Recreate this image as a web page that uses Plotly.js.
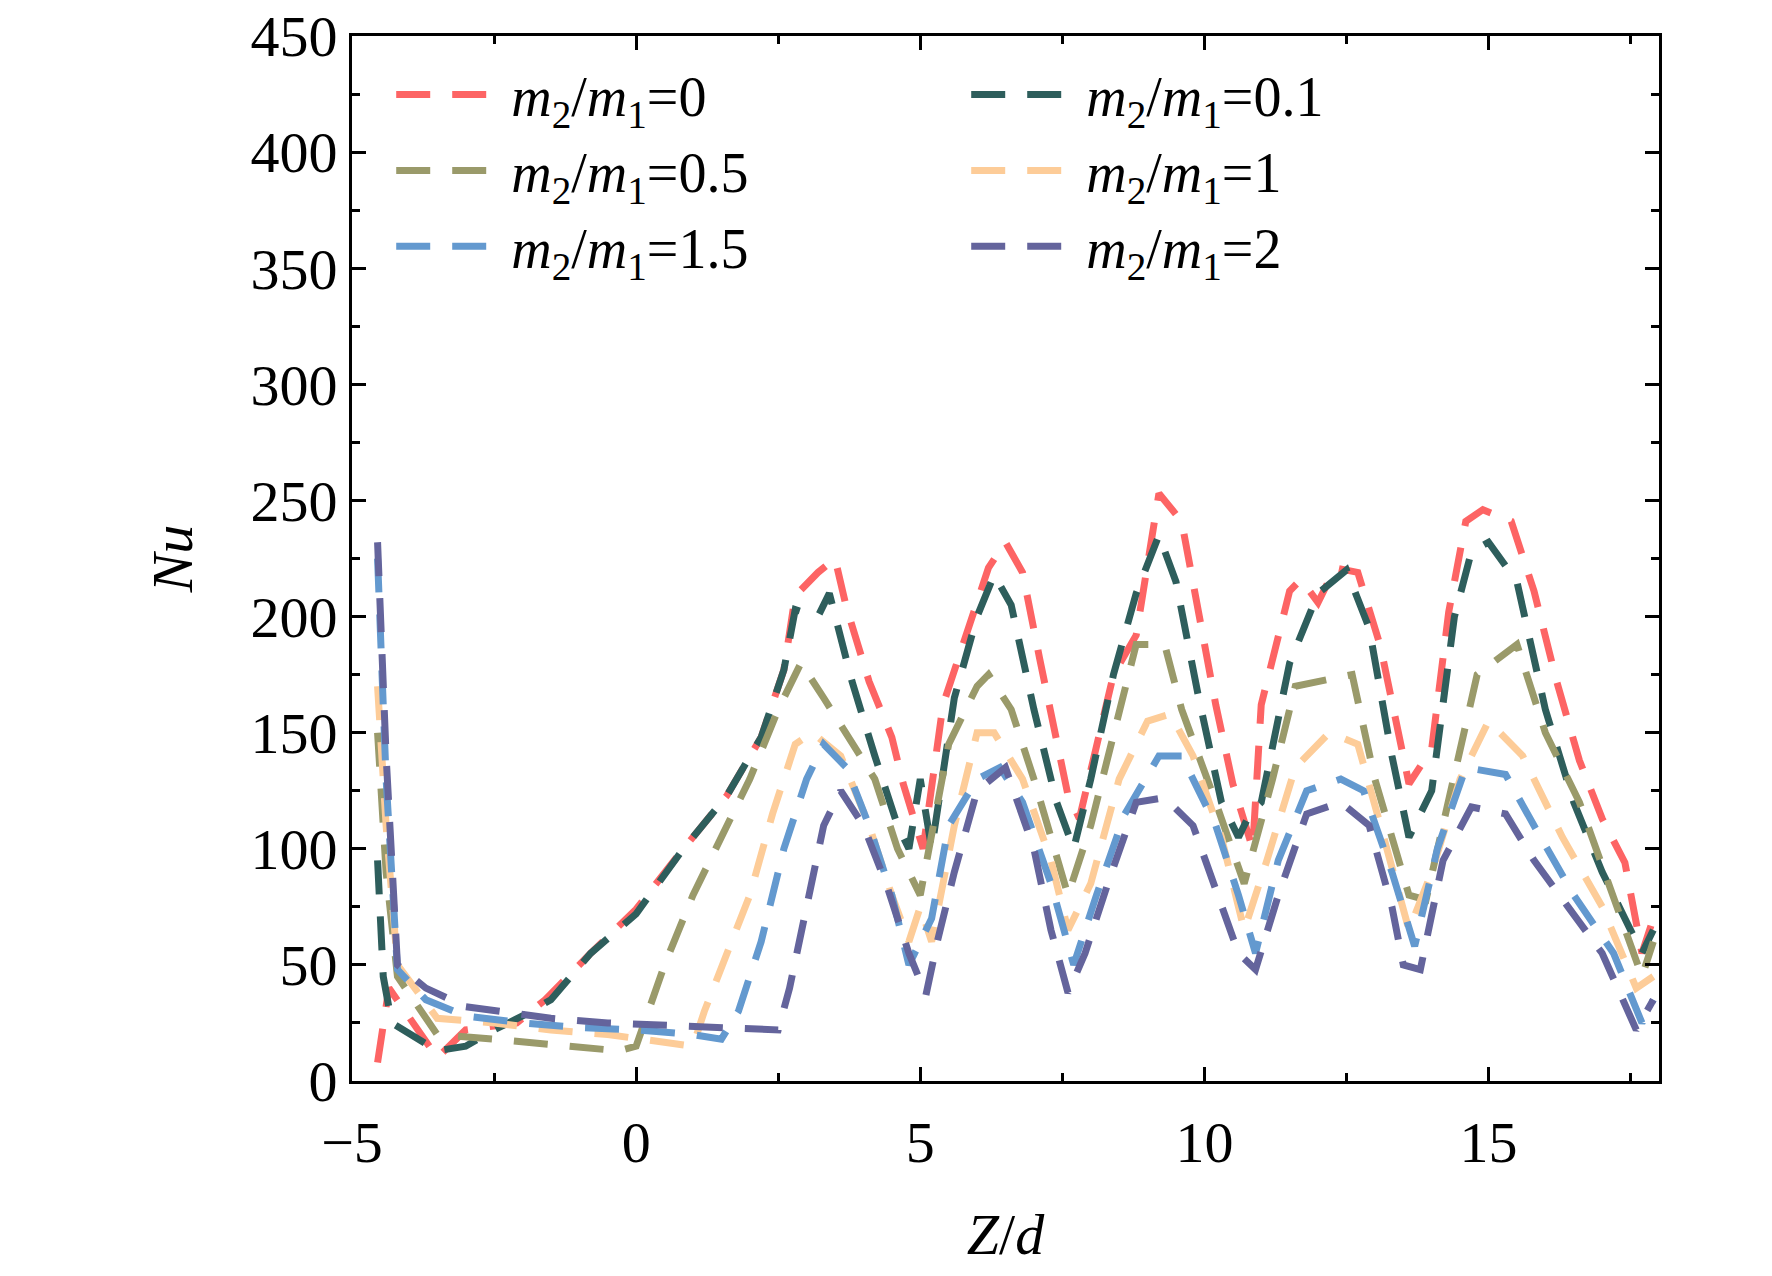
<!DOCTYPE html>
<html>
<head>
<meta charset="utf-8">
<script src="https://cdn.plot.ly/plotly-3.0.1.min.js"></script>
<style>body{margin:0;background:#fff}#chart{width:1772px;height:1276px}</style>
</head>
<body>
<div id="chart"></div>
<script>
// m2/m1 = 0
const x0 = [-4.55,-4.35,-3.5,-3,-2.1,-1.6,-0.8,0,0.8,1.6,2.2,2.6,2.8,3.2,3.5,3.7,4.1,4.5,4.7,4.9,5.05,5.4,5.8,6.2,6.5,6.8,7.1,7.4,7.6,7.8,8.1,8.4,8.8,9.1,9.2,9.6,9.9,10.2,10.5,10.7,10.85,11,11.5,11.7,12,12.3,12.7,13.1,13.4,13.6,14,14.3,14.6,14.9,15.4,15.8,16.2,16.6,17,17.4,17.7,17.9];
const y0 = [8,40,10,22,25,35,55,74,99,123,148,177,209,219,225,204,172,148,128,113,100,162,192,221,232,219,182,148,123,113,143,175,192,236,253,241,202,162,128,113,100,162,211,216,206,221,219,187,153,128,143,202,241,246,241,211,172,138,113,94,55,70];
// m2/m1 = 0.1
const x1 = [-4.55,-4.45,-4.3,-3.5,-3,-2.5,-2,-1.5,-0.8,0,0.8,1.6,2.2,2.6,2.8,3.2,3.4,3.8,4.2,4.6,4.8,5.0,5.2,5.6,6.0,6.3,6.6,7.0,7.4,7.7,8.0,8.4,8.8,9.2,9.5,9.9,10.3,10.6,10.8,11.0,11.5,12.0,12.5,12.9,13.3,13.6,14.0,14.4,14.7,15.0,15.5,16.0,16.5,17.0,17.4,17.7,17.9];
const y1 = [95,45,25,13,15,22,28,35,55,72,99,123,148,177,203,200,210,172,140,110,100,130,100,165,200,218,205,160,120,100,130,175,210,235,215,165,120,105,115,120,180,210,220,195,140,105,125,200,228,232,215,160,120,90,70,55,65];
// m2/m1 = 0.5
const x2 = [-4.55,-4.4,-4.2,-3.5,-2.5,-1,-0.3,0,0.5,1,1.5,2,2.5,2.9,3.3,3.7,4.2,4.6,5.0,5.5,6.0,6.2,6.6,7.0,7.6,8.0,8.5,8.8,9.3,9.6,10.2,10.7,11.2,11.6,12.2,12.6,13.0,13.6,13.9,14.3,14.8,15.5,16.0,16.6,17.2,17.7,17.9];
const y2 = [150,90,45,20,18,15,13,15,50,80,105,130,160,180,165,150,130,100,80,145,170,175,160,130,80,110,160,188,188,160,120,85,130,170,173,175,130,80,78,120,175,188,150,120,80,45,60];
// m2/m1 = 1
const x3 = [-4.55,-4.4,-4.2,-3.5,-2.5,-1.5,-0.5,0.5,1.0,1.2,1.6,2.0,2.4,2.8,3.1,3.6,4.1,4.5,4.8,5.0,5.2,5.6,6.0,6.3,6.8,7.3,7.6,8.0,8.5,9.0,9.4,9.8,10.3,10.7,11.1,11.6,12.2,12.7,13.1,13.6,14.0,14.5,15.0,15.6,16.3,17.0,17.6,17.9];
const y3 = [170,110,50,27,25,22,20,17,15,30,55,80,115,145,150,140,110,80,60,75,60,110,150,150,130,95,65,85,130,155,158,140,105,65,95,135,150,145,110,65,90,130,155,140,105,75,40,45];
// m2/m1 = 1.5
const x4 = [-4.55,-4.4,-4.2,-3.7,-3,-2,-1,0,1,1.5,1.8,2.2,2.6,3.0,3.3,3.7,4.1,4.5,4.8,5.0,5.2,5.5,6.0,6.4,6.8,7.3,7.7,8.1,8.6,9.2,9.6,10.2,10.6,10.9,11.3,11.8,12.4,12.8,13.3,13.7,14.1,14.6,15.3,15.8,16.5,17.2,17.7,17.9];
const y4 = [225,130,48,35,28,25,23,22,20,18,30,60,100,130,145,135,110,80,50,60,70,110,130,135,120,85,50,80,115,140,140,110,80,55,95,125,130,125,90,58,100,135,132,110,80,55,25,35];
// m2/m1 = 2
const x5 = [-4.55,-4.4,-4.2,-3.7,-3,-2,-1.5,-0.5,0.5,1.5,2.5,2.7,3.0,3.3,3.6,4.0,4.4,4.8,5.1,5.3,5.6,6.0,6.5,7.0,7.3,7.6,7.9,8.3,8.8,9.3,9.8,10.3,10.6,10.9,11.3,11.8,12.4,12.9,13.3,13.5,13.8,14.2,14.7,15.3,15.8,16.4,17.0,17.6,17.9];
const y5 = [232,140,50,40,32,29,27,25,24,23,22,40,75,110,125,110,85,55,37,60,90,125,135,100,65,38,55,85,120,122,110,75,55,48,80,115,120,110,75,50,48,95,118,115,95,75,55,22,35];

const xs = [x0, x1, x2, x3, x4, x5];
const ys = [y0, y1, y2, y3, y4, y5];
const labels = ['0', '0.1', '0.5', '1', '1.5', '2'];
const colors = ['#fd6464', '#2e5e5c', '#9a9a6a', '#fdcc98', '#6399cf', '#64649c'];

const traces = labels.map((lab, i) => ({
  x: xs[i], y: ys[i], type: 'scatter', mode: 'lines',
  name: '<i>m</i><sub>2</sub>/<i>m</i><sub>1</sub>=' + lab,
  line: {color: colors[i], width: 7, dash: '34px,22px'}
}));

const axisBase = {
  showgrid: false, zeroline: false, showline: true, linecolor: '#000', linewidth: 3,
  mirror: 'ticks', ticks: 'inside', ticklen: 14, tickwidth: 3, tickcolor: '#000',
  tickfont: {size: 58, color: '#000'}
};

const layout = {
  width: 1772, height: 1276,
  margin: {l: 352, r: 113, t: 36, b: 195},
  paper_bgcolor: '#fff', plot_bgcolor: '#fff',
  font: {family: 'Liberation Serif, Times New Roman, serif', color: '#000'},
  showlegend: true,
  legend: {
    orientation: 'h', x: 0.03, y: 0.985, xanchor: 'left', yanchor: 'top',
    entrywidth: 450, entrywidthmode: 'pixels', itemwidth: 110,
    font: {size: 56}, bgcolor: 'rgba(0,0,0,0)', tracegroupgap: 0
  },
  xaxis: Object.assign({}, axisBase, {
    range: [-5, 18], tickvals: [-5, 0, 5, 10, 15], ticktext: ['\u22125', '0', '5', '10', '15'],
    ticklabelstandoff: 8,
    minor: {dtick: 2.5, tick0: 0, ticks: 'inside', ticklen: 8, tickwidth: 3, tickcolor: '#000'},
    title: {text: '<i>Z</i>/<i>d</i>', font: {size: 58}, standoff: 40}
  }),
  yaxis: Object.assign({}, axisBase, {
    range: [0, 450], dtick: 50,
    minor: {dtick: 25, ticks: 'inside', ticklen: 8, tickwidth: 3, tickcolor: '#000'},
    title: {text: '<i>Nu</i>', font: {size: 58}, standoff: 40}
  })
};

Plotly.newPlot('chart', traces, layout, {displayModeBar: false});
</script>
</body>
</html>
